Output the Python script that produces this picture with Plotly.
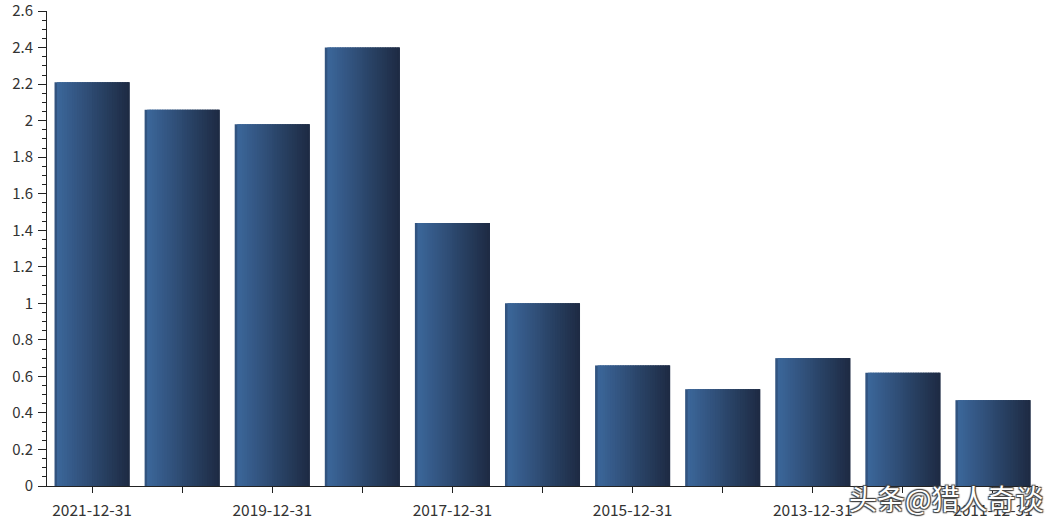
import plotly.graph_objects as go

dates = ["2021-12-31", "2020-12-31", "2019-12-31", "2018-12-31", "2017-12-31",
         "2016-12-31", "2015-12-31", "2014-12-31", "2013-12-31", "2012-12-31",
         "2011-12-31"]
values = [2.21, 2.06, 1.98, 2.40, 1.44, 1.00, 0.66, 0.53, 0.70, 0.62, 0.47]
tick_labels = [d if i % 2 == 0 else "" for i, d in enumerate(dates)]
y_ticks = [0, 0.2, 0.4, 0.6, 0.8, 1, 1.2, 1.4, 1.6, 1.8, 2, 2.2, 2.4, 2.6]

BAR_W = 0.833
N = 30
c0 = (60, 104, 156)
c1 = (30, 43, 68)

xs = list(range(len(dates)))
fig = go.Figure()
w = BAR_W / N
for k in range(N):
    t = k / (N - 1)
    col = tuple(round(c0[j] + (c1[j] - c0[j]) * t) for j in range(3))
    if k == 0:
        col = (50, 84, 128)
    width = w * 2.5 if k < N - 1 else w
    width = min(width, BAR_W / 2 - (-BAR_W / 2 + k * w))
    fig.add_trace(go.Bar(
        x=xs, y=values, width=width, offset=-BAR_W / 2 + k * w,
        marker=dict(color="rgb(%d,%d,%d)" % col, line=dict(width=0)),
        showlegend=False, hoverinfo="skip" if k else "x+y",
    ))

fig.update_layout(
    barmode="overlay",
    width=1063, height=529,
    margin=dict(l=47, r=25, t=11, b=43),
    paper_bgcolor="white", plot_bgcolor="white",
    font=dict(family="Noto Sans CJK SC, Noto Sans, sans-serif", size=15.5, color="#333"),
    xaxis=dict(
        range=[-0.5, 10.5], tickmode="array", tickvals=xs, ticktext=tick_labels,
        showline=True, linecolor="#222", linewidth=1, ticks="outside",
        ticklen=6, tickcolor="#222", showgrid=False, zeroline=False,
        tickfont=dict(size=15.5, color="#333"), automargin=False,
        ticklabeloverflow="allow", ticklabelstandoff=4,
    ),
    yaxis=dict(
        range=[0, 2.6005], tickmode="array", tickvals=y_ticks,
        ticktext=[("%g" % v) for v in y_ticks],
        showline=True, linecolor="#222", linewidth=1, ticks="outside",
        ticklen=8, tickcolor="#222", showgrid=False, zeroline=False,
        tickfont=dict(size=15, color="#333"), automargin=False,
        ticklabeloverflow="allow", ticklabelstandoff=2,
        minor=dict(dtick=0.05, tick0=0, ticks="outside", ticklen=4, tickcolor="#222"),
    ),
    annotations=[dict(
        text="头条@猎人奇谈", xref="paper", yref="paper", x=1.008, y=-0.025,
        xanchor="right", yanchor="middle", showarrow=False,
        font=dict(size=28, color="white", family="Noto Sans CJK SC",
                  shadow="1px 1px 1px #444, -1px -1px 1px #444, 1px -1px 1px #444, -1px 1px 1px #444"),
    )],
)

fig.write_html("out.html", config={"displayModeBar": False},
               post_script="document.body.style.margin='0';")
